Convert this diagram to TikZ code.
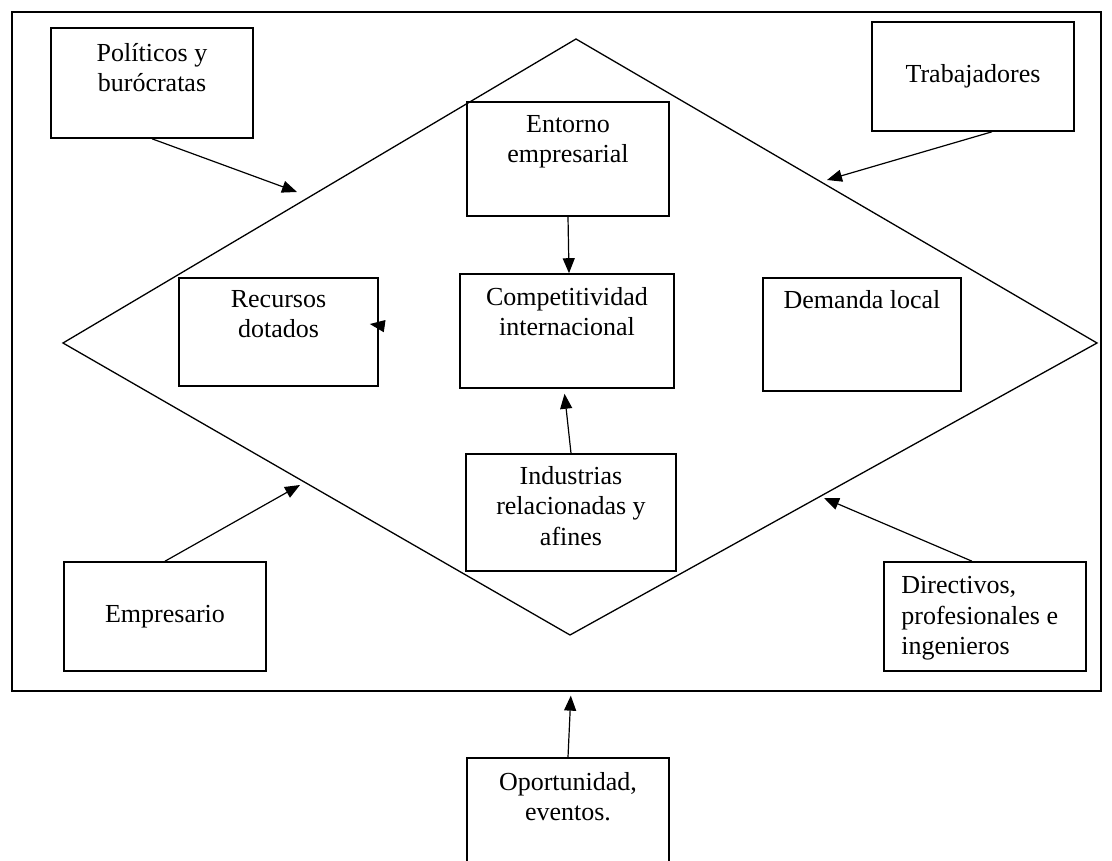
\documentclass[tikz,border=0pt]{standalone}
\usepackage{fontspec}
\setmainfont{Liberation Serif}
\usetikzlibrary{positioning,arrows.meta}
\tikzset{
  box/.style={draw=black, line width=1.6pt, inner sep=0pt, minimum width=202pt, minimum height=110pt},
  txt/.style={align=center, inner sep=0pt, anchor=north},
  arr/.style={-{Triangle[length=15pt,width=12pt]}, line width=1.2pt},
  frm/.style={draw=black, line width=1.3pt, inner sep=0pt},
}

\begin{document}
\begin{tikzpicture}[x=1pt,y=-1pt,font=\fontsize{26}{30.5}\selectfont]
  \useasboundingbox (0,0) rectangle (1112,861);
  % outer frame
  \node[frm, minimum width=1089pt, minimum height=679pt] (frame) at (556.5,351.5) {};
  % diamond
  \coordinate (dTop) at (576,39);
  \coordinate (dRight) at (1097,343);
  \coordinate (dBot) at (570,635);
  \coordinate (dLeft) at (63,343);
  \draw[line width=1.3pt] (dTop) -- (dRight) -- (dBot) -- (dLeft) -- cycle;
  % boxes
  \node[box] (pol) at (152,83) {};
  \node[box, minimum height=109pt] (trab) at (973,76.5) {};
  \node[box, minimum height=114pt] (ent) at (568,159) {};
  \node[box, minimum width=199pt, minimum height=108pt] (rec) at (278.5,332) {};
  \node[box, minimum width=214pt, minimum height=114pt] (comp) at (567,331) {};
  \node[box, minimum width=198pt, minimum height=113pt] (dem) at (862,334.5) {};
  \node[box, minimum width=210pt, minimum height=117pt] (ind) at (571,512.5) {};
  \node[box, minimum height=109pt] (emp) at (165,616.5) {};
  \node[box, minimum height=109pt] (dir) at (985,616.5) {};
  \node[box, minimum height=122pt] (opp) at (568,819) {};
  % texts
  \node[txt, below=16pt of pol.north] (polT) {Políticos y\\burócratas};
  \node[txt, anchor=center] (trabT) at (trab) {Trabajadores};
  \node[txt, below=14pt of ent.north] (entT) {Entorno\\empresarial};
  \node[txt, below=13pt of rec.north] (recT) {Recursos\\dotados};
  \node[txt, below=14pt of comp.north] (compT) {Competitividad\\internacional};
  \node[txt, below=13pt of dem.north] (demT) {Demanda local};
  \node[txt, below=13pt of ind.north] (indT) {Industrias\\relacionadas y\\afines};
  \node[txt, anchor=center] (empT) at (emp) {Empresario};
  \node[txt, align=left, anchor=north west] (dirT) at ([xshift=18pt,yshift=-15pt]dir.north west) {Directivos,\\profesionales e\\ingenieros};
  \node[txt, below=15pt of opp.north] (oppT) {Oportunidad,\\eventos.};
  % arrows onto the diamond
  \coordinate (polE) at (297,192);
  \coordinate (trabE) at (827,180);
  \coordinate (empE) at (300,485);
  \coordinate (dirE) at (824,498);
  \draw[arr] (pol.south) -- (polE);
  \draw[arr] ([xshift=19pt]trab.south) -- (trabE);
  \draw[arr] (emp.north) -- (empE);
  \draw[arr] ([xshift=-13pt]dir.north) -- (dirE);
  % inner arrows
  \draw[arr] (ent.south) -- ([xshift=2pt]comp.north);
  \draw[arr, shorten >=5pt] (ind.north) -- ([xshift=-3pt]comp.south);
  \draw[arr] ([xshift=5pt,yshift=6pt]rec.east) -- ([xshift=-9pt,yshift=8pt]rec.east);
  \draw[arr, shorten >=4pt] (opp.north) -- ([xshift=3pt]opp.north |- frame.south);
\end{tikzpicture}
\end{document}
